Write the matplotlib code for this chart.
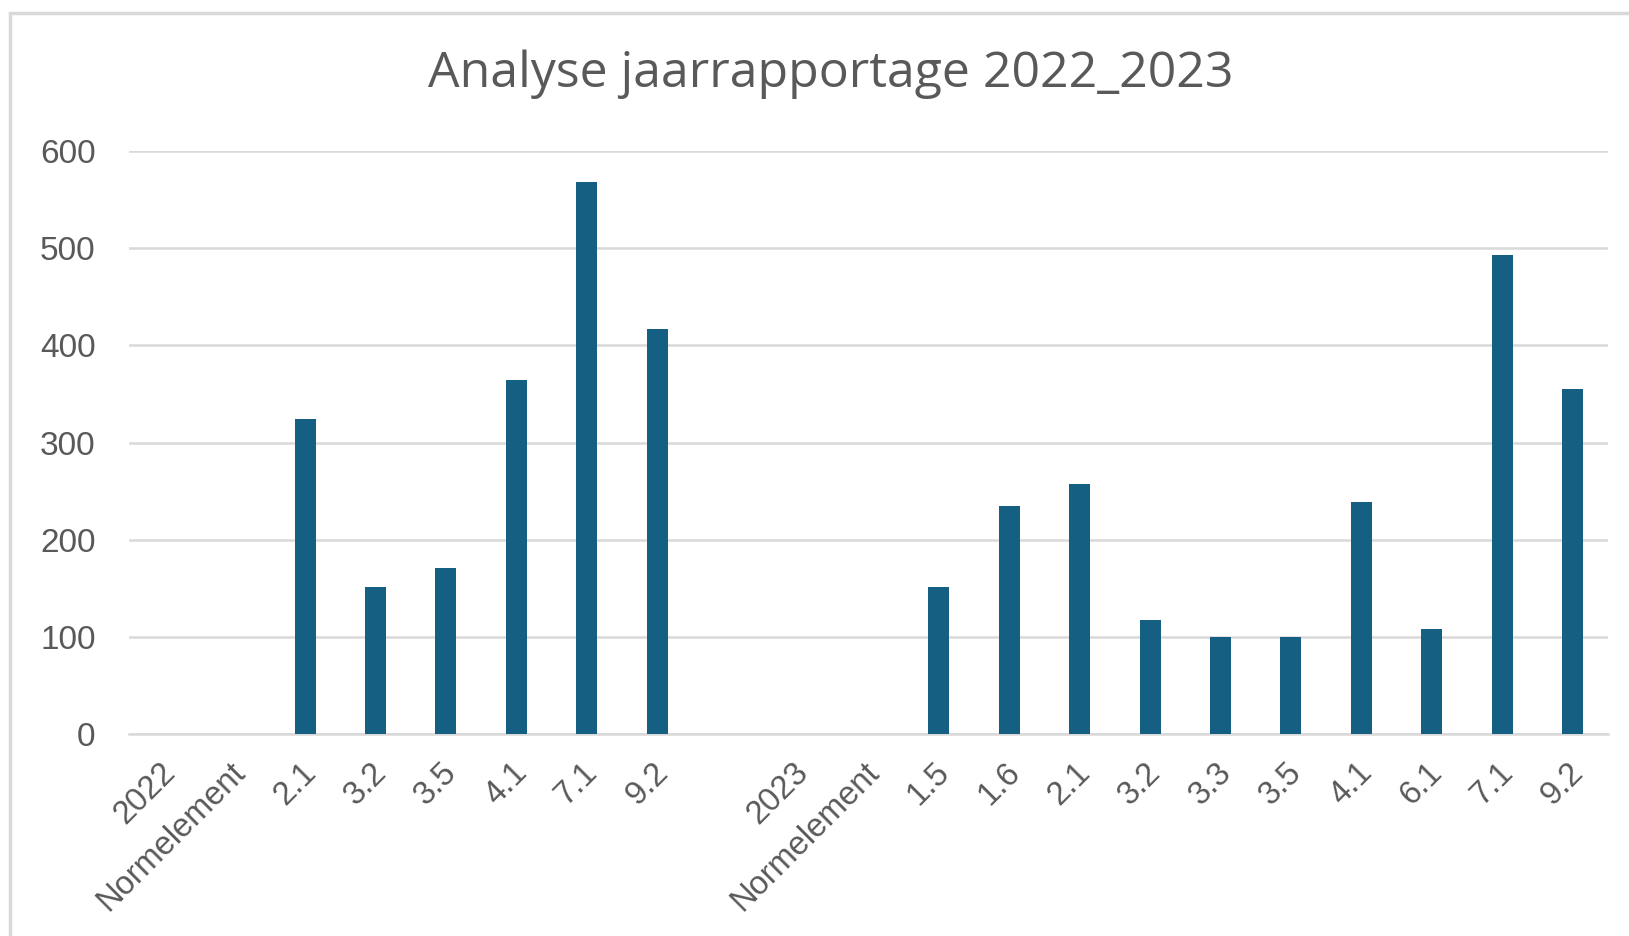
#!/usr/bin/env python3
"""Bar chart: Analyse jaarrapportage 2022_2023."""

import numpy as np
import matplotlib

matplotlib.use("Agg")
import matplotlib.pyplot as plt
from matplotlib.patches import Rectangle
from matplotlib.transforms import ScaledTranslation

TITLE = "Analyse jaarrapportage 2022_2023"
CATEGORIES = [
    "2022", "Normelement", "2.1", "3.2", "3.5", "4.1", "7.1", "9.2",
    "",
    "2023", "Normelement", "1.5", "1.6", "2.1", "3.2", "3.3", "3.5",
    "4.1", "6.1", "7.1", "9.2",
]
VALUES = [
    None, None, 324, 152, 171, 364, 568, 417,
    None,
    None, None, 152, 235, 257, 118, 100, 100,
    239, 108, 493, 355,
]
Y_TICKS = [0, 100, 200, 300, 400, 500, 600]

BAR_COLOR = "#156082"
GRID_COLOR = "#D9D9D9"
TEXT_COLOR = "#595959"


def main():
    fig = plt.figure(figsize=(16.29, 9.36), dpi=100)
    fig.patch.set_facecolor("white")
    fig.patches.append(Rectangle((10 / 1629, -0.01), 1.02, 1 - 13 / 936 + 0.01,
                                 transform=fig.transFigure, fill=False,
                                 edgecolor=GRID_COLOR, linewidth=2.5))

    ax = fig.add_axes([0.0792, 0.2153, 0.9078, 0.6238])
    x = np.arange(len(CATEGORIES))
    heights = np.array([np.nan if v is None else v for v in VALUES], dtype=float)
    mask = ~np.isnan(heights)
    ax.bar(x[mask], heights[mask], width=0.30, color=BAR_COLOR, zorder=3)

    ax.set_xlim(-0.5, len(CATEGORIES) - 0.5)
    ax.set_ylim(0, 600)
    ax.set_yticks(Y_TICKS)
    ax.set_yticklabels([str(t) for t in Y_TICKS], fontsize=24,
                       family="Liberation Sans", color=TEXT_COLOR)
    ax.set_xticks(x)
    ax.set_xticklabels(CATEGORIES, rotation=45, ha="right", va="center",
                       rotation_mode="anchor", fontsize=23.5,
                       family="Liberation Sans", color=TEXT_COLOR)
    ax.tick_params(axis="both", length=0)
    ax.tick_params(axis="y", pad=24)
    ax.tick_params(axis="x", pad=24)
    # nudge the slanted labels a little to the right, like the original
    shift = ScaledTranslation(6 / 100, 0, fig.dpi_scale_trans)
    for label in ax.get_xticklabels():
        label.set_transform(label.get_transform() + shift)

    ax.grid(axis="y", color=GRID_COLOR, linewidth=1.8, zorder=0)
    for side in ("top", "right", "left"):
        ax.spines[side].set_visible(False)
    ax.spines["bottom"].set_color(GRID_COLOR)
    ax.spines["bottom"].set_linewidth(1.8)

    fig.text(0.51, 0.921, TITLE, ha="center", va="center", fontsize=36,
             family="Open Sans", color=TEXT_COLOR)

    fig.savefig("out.png", dpi=100)
    plt.close(fig)


if __name__ == "__main__":
    main()
